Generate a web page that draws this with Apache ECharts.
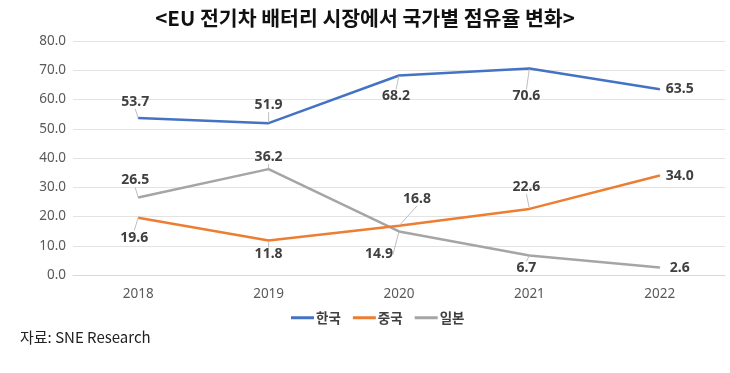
<!DOCTYPE html>
<html>
<head>
<meta charset="utf-8">
<script src="https://cdn.jsdelivr.net/npm/echarts@6/dist/echarts.min.js"></script>
<style>
html,body{margin:0;padding:0;background:#fff;}
#c{width:730px;height:373px;}
</style>
</head>
<body>
<div id="c"></div>
<script>
const categories = ['2018', '2019', '2020', '2021', '2022'];
const korea = [53.7, 51.9, 68.2, 70.6, 63.5];
const china = [19.6, 11.8, 16.8, 22.6, 34.0];
const japan = [26.5, 36.2, 14.9, 6.7, 2.6];
const seriesNames = ['한국', '중국', '일본'];
const yTicks = [0, 10, 20, 30, 40, 50, 60, 70, 80];

// label offsets (px) relative to each point
const labelOffsets = [
  [[-3,-16],[0,-18],[-3,21],[-3,28],[20,0]],
  [[-4,20],[0,14],[18,-27],[-3,-22],[20,0]],
  [[-3,-17],[0,-12],[-20,23],[-3,13],[20,1]]
];
const colors = ['#4472C4', '#ED7D31', '#A5A5A5'];

const chart = echarts.init(document.getElementById('c'));

function mkSeries(name, values, idx) {
  return {
    name: name,
    type: 'line',
    data: values.map((v, i) => ({
      value: v,
      labelLine: { show: i !== 4 }
    })),
    symbol: 'circle',
    symbolSize: 1,
    showSymbol: true,
    itemStyle: { color: colors[idx] },
    lineStyle: { color: colors[idx], width: 2.5 },
    emphasis: { disabled: true },
    z: 3 - idx,
    label: {
      show: true,
      position: 'inside',
      formatter: p => p.value.toFixed(1),
      color: '#404040',
      fontWeight: 'bold',
      fontSize: 14,
      fontFamily: 'Noto Sans'
    },
    labelLine: {
      show: true,
      lineStyle: { color: '#BFBFBF', width: 1 }
    },
    labelLayout: function (p) {
      const o = labelOffsets[idx][p.dataIndex];
      return { dx: o[0], dy: o[1], hideOverlap: false };
    }
  };
}

chart.setOption({
  animation: false,
  backgroundColor: '#ffffff',
  title: {
    text: '<EU 전기차 배터리 시장에서 국가별 점유율 변화>',
    left: 'center',
    top: 3,
    textStyle: {
      fontFamily: 'Noto Sans CJK KR',
      fontSize: 20.5,
      fontWeight: 'bold',
      color: '#111'
    }
  },
  grid: { left: 73, right: 5, top: 41, bottom: 98, containLabel: false },
  legend: {
    data: seriesNames,
    top: 306,
    left: 286,
    itemWidth: 23,
    itemHeight: 3,
    itemGap: 12,
    icon: 'rect',
    textStyle: { fontFamily: 'Noto Sans CJK KR', fontSize: 13.5, fontWeight: 'bold', color: '#404040', padding: [0,0,0,-3] }
  },
  xAxis: {
    type: 'category',
    data: categories,
    boundaryGap: true,
    axisLine: { show: true, lineStyle: { color: '#D9D9D9', width: 1 } },
    axisTick: { show: false },
    axisLabel: { color: '#595959', fontSize: 13.5, margin: 12, fontFamily: 'Noto Sans' }
  },
  yAxis: {
    type: 'value',
    min: yTicks[0],
    max: yTicks[yTicks.length - 1],
    interval: 10,
    axisLine: { show: false },
    axisTick: { show: false },
    splitLine: { lineStyle: { color: '#E3E3E3', width: 1 } },
    axisLabel: { color: '#595959', fontSize: 13.5, margin: 7, formatter: v => v.toFixed(1), fontFamily: 'Noto Sans' }
  },
  graphic: [{
    type: 'text',
    left: 20,
    top: 330,
    style: { text: '자료: SNE Research', fontFamily: 'Noto Sans CJK KR', fontSize: 15, fill: '#222' }
  }],
  series: [
    mkSeries(seriesNames[0], korea, 0),
    mkSeries(seriesNames[1], china, 1),
    mkSeries(seriesNames[2], japan, 2)
  ]
});
</script>
</body>
</html>
